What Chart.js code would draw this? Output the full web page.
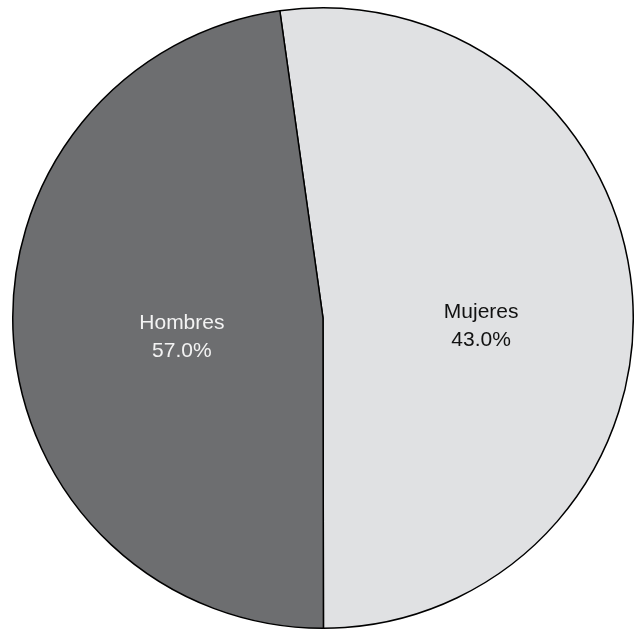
<!DOCTYPE html>
<html>
<head>
<meta charset="utf-8">
<script src="https://cdn.jsdelivr.net/npm/chart.js@4"></script>
<style>
html,body{margin:0;padding:0;background:#fff;}
#wrap{width:634px;height:629px;}
</style>
</head>
<body>
<div id="wrap"><canvas id="c" width="634" height="629"></canvas></div>
<script>
const categories = ["Mujeres", "Hombres"];
const sliceValues = [52.2, 47.8];          // slice sizes as drawn in the picture
const labelTexts = ["43.0%", "57.0%"];     // percentages printed on the slices

const sliceColors = ["#e0e1e3", "#6d6e70"];
const textColors = ["#111111", "#f3f3f3"];

const labelPlugin = {
  id: "sliceLabels",
  afterDatasetsDraw(chart, args, opts) {
    const ctx = chart.ctx;
    const meta = chart.getDatasetMeta(0);
    ctx.save();
    ctx.font = opts.font;
    ctx.textAlign = "center";
    ctx.textBaseline = "middle";
    meta.data.forEach((arc, i) => {
      const p = arc.getProps(["x", "y", "startAngle", "endAngle", "outerRadius"], true);
      const mid = (p.startAngle + p.endAngle) / 2;
      const f = opts.radius[i];
      const px = p.x + Math.cos(mid) * p.outerRadius * f;
      const py = p.y + Math.sin(mid) * p.outerRadius * f + opts.shiftY[i];
      ctx.fillStyle = textColors[i];
      ctx.fillText(categories[i], px, py - opts.lineGap / 2);
      ctx.fillText(labelTexts[i], px, py + opts.lineGap / 2);
    });
    ctx.restore();
  }
};

new Chart(document.getElementById("c"), {
  type: "pie",
  data: {
    labels: categories,
    datasets: [{
      data: sliceValues,
      backgroundColor: sliceColors,
      borderColor: "#000000",
      borderWidth: 1.5,
      borderAlign: "center"
    }]
  },
  options: {
    responsive: false,
    devicePixelRatio: 1,
    animation: false,
    rotation: -8,
    layout: { padding: { left: 12, right: 0, top: 7, bottom: 0 } },
    plugins: {
      legend: { display: false },
      tooltip: { enabled: false },
      sliceLabels: {
        font: "21px 'Liberation Sans', Arial, sans-serif",
        lineGap: 28,
        radius: [0.511, 0.456],
        shiftY: [19.5, 9.5]
      }
    }
  },
  plugins: [labelPlugin]
});
</script>
</body>
</html>
